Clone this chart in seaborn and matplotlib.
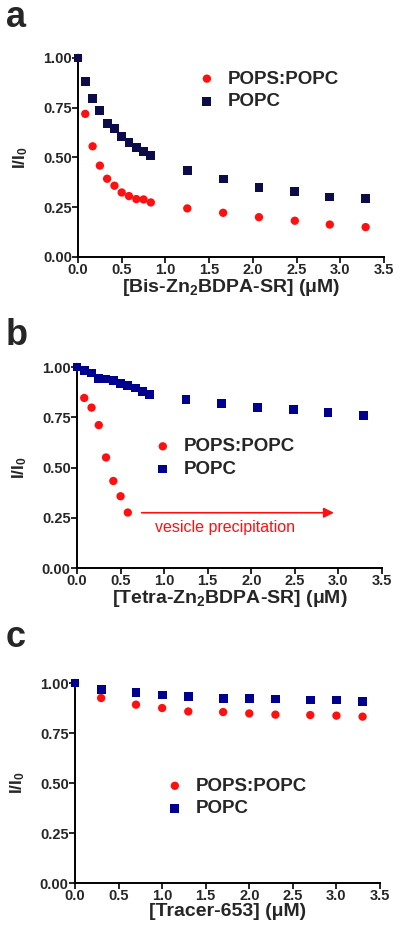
import numpy as np
import pandas as pd
import matplotlib
matplotlib.use("Agg")
import matplotlib.pyplot as plt
import seaborn as sns

# --- data ---
# panel a: Bis-Zn2BDPA-SR
xa = [0.0, 0.083, 0.167, 0.25, 0.333, 0.417, 0.5, 0.583, 0.667, 0.75, 0.833,
      1.25, 1.66, 2.07, 2.48, 2.88, 3.29]
a_pops = [1.0, 0.719, 0.556, 0.459, 0.393, 0.358, 0.324, 0.306, 0.291, 0.289, 0.274,
          0.244, 0.222, 0.200, 0.182, 0.163, 0.150]
a_popc = [1.0, 0.882, 0.797, 0.734, 0.672, 0.645, 0.605, 0.575, 0.550, 0.530, 0.509,
          0.434, 0.392, 0.351, 0.329, 0.301, 0.294]

# panel b: Tetra-Zn2BDPA-SR (POPS:POPC stops after precipitation)
xb = [0.0, 0.083, 0.167, 0.25, 0.333, 0.417, 0.5, 0.583, 0.667, 0.75, 0.833,
      1.25, 1.66, 2.07, 2.48, 2.88, 3.29]
b_pops = [1.0, 0.846, 0.798, 0.711, 0.550, 0.433, 0.357, 0.276]
b_popc = [1.0, 0.983, 0.970, 0.944, 0.940, 0.934, 0.917, 0.907, 0.896, 0.880, 0.864,
          0.838, 0.820, 0.800, 0.790, 0.775, 0.757]

# panel c: Tracer-653
xc = [0.0, 0.3, 0.7, 1.0, 1.3, 1.7, 2.0, 2.3, 2.7, 3.0, 3.3]
c_pops = [1.0, 0.925, 0.892, 0.875, 0.858, 0.855, 0.848, 0.842, 0.840, 0.837, 0.832]
c_popc = [1.0, 0.967, 0.953, 0.940, 0.932, 0.923, 0.922, 0.920, 0.915, 0.915, 0.908]

sns.set_style("ticks")
plt.rcParams['font.family'] = ['Liberation Sans', 'DejaVu Sans']
plt.rcParams['font.weight'] = 'bold'
plt.rcParams['mathtext.fontset'] = 'custom'
plt.rcParams['mathtext.rm'] = 'Liberation Sans:bold'
plt.rcParams['mathtext.bf'] = 'Liberation Sans:bold'
plt.rcParams['mathtext.default'] = 'bf'

RED = '#ff1010'

fig = plt.figure(figsize=(4, 9.42), dpi=100)

panels = [
    dict(rect=[0.195, 0.7272, 0.765, 0.2113], x=xa, pops=a_pops, popc=a_popc,
         navy='#0c0c48', letter='a', ly=0.9713,
         xlabel='[Bis-Zn$_2$BDPA-SR] (\u03bcM)', leg=(0.366, 0.837)),
    dict(rect=[0.1925, 0.397, 0.7625, 0.2134], x=xb, pops=b_pops, popc=b_popc,
         navy='#000090', letter='b', ly=0.6338,
         xlabel='[Tetra-Zn$_2$BDPA-SR] (\u03bcM)', leg=(0.226, 0.547)),
    dict(rect=[0.1875, 0.0626, 0.7625, 0.2123], x=xc, pops=c_pops, popc=c_popc,
         navy='#000090', letter='c', ly=0.3132,
         xlabel='[Tracer-653] (\u03bcM)', leg=(0.272, 0.4275)),
]

for p in panels:
    ax = fig.add_axes(p['rect'])
    df_pops = pd.DataFrame({'x': p['x'][:len(p['pops'])], 'y': p['pops']})
    df_popc = pd.DataFrame({'x': p['x'][:len(p['popc'])], 'y': p['popc']})
    sns.scatterplot(data=df_pops, x='x', y='y', ax=ax, marker='o', s=36,
                    color=RED, edgecolor='none', label='POPS:POPC', clip_on=False, zorder=3)
    sns.scatterplot(data=df_popc, x='x', y='y', ax=ax, marker='s', s=40,
                    color=p['navy'], edgecolor='none', label='POPC', clip_on=False, zorder=4)

    ax.set_xlim(0, 3.5)
    ax.set_ylim(0, 1.0)
    ax.set_xticks(np.arange(0, 3.51, 0.5))
    ax.set_yticks([0, 0.25, 0.5, 0.75, 1.0])
    ax.set_xticklabels([f"{v:.1f}" for v in np.arange(0, 3.51, 0.5)])
    ax.set_yticklabels([f"{v:.2f}" for v in [0, 0.25, 0.5, 0.75, 1.0]])
    ax.tick_params(direction='out', length=4.5, width=1.4, labelsize=10.5, pad=0)
    for lab in ax.get_xticklabels() + ax.get_yticklabels():
        lab.set_fontweight('bold')
    sns.despine(ax=ax)
    for s in ['left', 'bottom']:
        ax.spines[s].set_linewidth(1.4)
        ax.spines[s].set_color('black')

    ax.set_xlabel(p['xlabel'], fontsize=14, fontweight='bold', labelpad=0)
    ax.set_ylabel('I/I$_0$', fontsize=12.5, fontweight='bold', labelpad=9)

    ax.legend(loc='center left', bbox_to_anchor=p['leg'], frameon=False,
              prop={'size': 13.5, 'weight': 'bold'}, handletextpad=0.6,
              labelspacing=0.3, borderaxespad=0, handlelength=1.0)

    fig.text(0.015, p['ly'], p['letter'], fontsize=26, fontweight='bold',
             ha='left', va='baseline')

    if p['letter'] == 'b':
        ax.annotate('', xy=(2.98, 0.275), xytext=(0.71, 0.275),
                    arrowprops=dict(arrowstyle='-|>', color=RED, lw=1.2,
                                    mutation_scale=15))
        ax.text(1.70, 0.20, 'vesicle precipitation', color=RED, fontsize=11.5,
                fontweight='normal', ha='center', va='center')

fig.savefig('out.png', dpi=100)
